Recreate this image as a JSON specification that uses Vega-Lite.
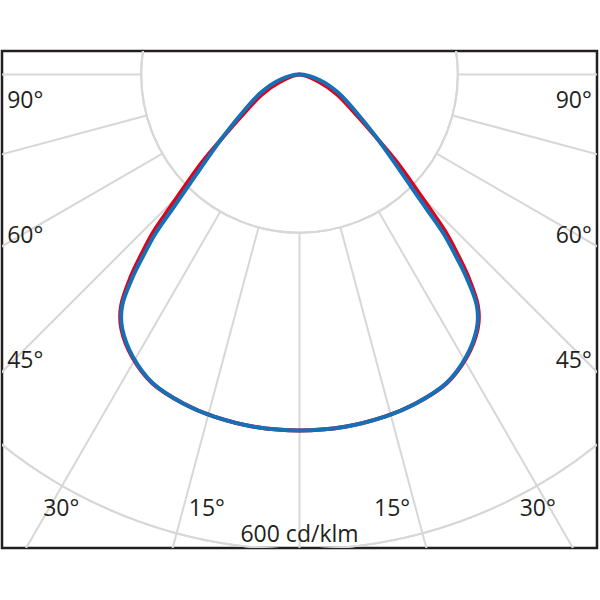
{
  "$schema": "https://vega.github.io/schema/vega-lite/v6.json",
  "description": "Polar luminous intensity distribution (cd/klm), C0-C180 and C90-C270 planes.",
  "width": 595,
  "height": 497,
  "autosize": "none",
  "padding": {"left": 2, "top": 51, "right": 3, "bottom": 52},
  "background": "white",
  "config": {"view": {"stroke": "#231f20", "strokeWidth": 2.5}},
  "layer": [
    {
      "data": {"values": [{"r": 200}, {"r": 400}, {"r": 600}]},
      "mark": {"type": "arc", "theta": 0, "theta2": 6.2832, "filled": false, "color": "#d7d7d7", "strokeWidth": 2, "clip": true},
      "encoding": {
        "x": {"datum": 0, "type": "quantitative", "scale": {"domain": [-375.87, 375.87], "nice": false, "zero": false}, "axis": null},
        "y": {"datum": 0, "type": "quantitative", "scale": {"domain": [-598.23, 29.69], "nice": false, "zero": false}, "axis": null},
        "radius": {"field": "r", "type": "quantitative", "scale": {"type": "linear", "domain": [0, 600], "range": [0, 474.9]}}
      }
    },
    {
      "data": {"values": [
        {"angle": 0, "x": 0, "y": -200, "x2": 0, "y2": -900},
        {"angle": -15, "x": -51.76, "y": -193.19, "x2": -232.94, "y2": -869.33},
        {"angle": 15, "x": 51.76, "y": -193.19, "x2": 232.94, "y2": -869.33},
        {"angle": -30, "x": -100, "y": -173.21, "x2": -450, "y2": -779.42},
        {"angle": 30, "x": 100, "y": -173.21, "x2": 450, "y2": -779.42},
        {"angle": -45, "x": -141.42, "y": -141.42, "x2": -636.4, "y2": -636.4},
        {"angle": 45, "x": 141.42, "y": -141.42, "x2": 636.4, "y2": -636.4},
        {"angle": -60, "x": -173.21, "y": -100, "x2": -779.42, "y2": -450},
        {"angle": 60, "x": 173.21, "y": -100, "x2": 779.42, "y2": -450},
        {"angle": -75, "x": -193.19, "y": -51.76, "x2": -869.33, "y2": -232.94},
        {"angle": 75, "x": 193.19, "y": -51.76, "x2": 869.33, "y2": -232.94},
        {"angle": -90, "x": -200, "y": 0, "x2": -900, "y2": 0},
        {"angle": 90, "x": 200, "y": 0, "x2": 900, "y2": 0}
      ]},
      "mark": {"type": "rule", "color": "#d7d7d7", "strokeWidth": 2, "clip": true},
      "encoding": {
        "x": {"field": "x", "type": "quantitative", "scale": {"domain": [-375.87, 375.87], "nice": false, "zero": false}, "axis": null},
        "y": {"field": "y", "type": "quantitative", "scale": {"domain": [-598.23, 29.69], "nice": false, "zero": false}, "axis": null},
        "x2": {"field": "x2"},
        "y2": {"field": "y2"}
      }
    },
    {
      "data": {"name": "curves"},
      "transform": [{"filter": "datum.plane === 'C0-C180'"}],
      "mark": {"type": "line", "interpolate": "cardinal-closed", "tension": 0, "color": "#e2001a", "strokeWidth": 4, "clip": true},
      "encoding": {
        "x": {"field": "x", "type": "quantitative", "scale": {"domain": [-375.87, 375.87], "nice": false, "zero": false}, "axis": null},
        "y": {"field": "y", "type": "quantitative", "scale": {"domain": [-598.23, 29.69], "nice": false, "zero": false}, "axis": null},
        "order": {"field": "i", "type": "quantitative"}
      }
    },
    {
      "data": {"name": "curves"},
      "transform": [{"filter": "datum.plane === 'C90-C270'"}],
      "mark": {"type": "line", "interpolate": "cardinal-closed", "tension": 0, "color": "#176fb5", "strokeWidth": 4, "clip": true},
      "encoding": {
        "x": {"field": "x", "type": "quantitative", "scale": {"domain": [-375.87, 375.87], "nice": false, "zero": false}, "axis": null},
        "y": {"field": "y", "type": "quantitative", "scale": {"domain": [-598.23, 29.69], "nice": false, "zero": false}, "axis": null},
        "order": {"field": "i", "type": "quantitative"}
      }
    },
    {
      "data": {"values": [
        {"label": "90°", "tx": -346.5, "ty": -42.3},
        {"label": "90°", "tx": 346.5, "ty": -42.3},
        {"label": "60°", "tx": -346.5, "ty": -212.5},
        {"label": "60°", "tx": 346.5, "ty": -212.5},
        {"label": "45°", "tx": -346.5, "ty": -370.8},
        {"label": "45°", "tx": 346.5, "ty": -370.8},
        {"label": "30°", "tx": -301, "ty": -558},
        {"label": "30°", "tx": 301, "ty": -558},
        {"label": "15°", "tx": -117, "ty": -558},
        {"label": "15°", "tx": 117, "ty": -558},
        {"label": "600 cd/klm", "tx": 0, "ty": -590.6}
      ]},
      "mark": {"type": "text", "align": "center", "baseline": "alphabetic", "font": "Open Sans", "fontSize": 23, "color": "#231f20"},
      "encoding": {
        "x": {"field": "tx", "type": "quantitative", "scale": {"domain": [-375.87, 375.87], "nice": false, "zero": false}, "axis": null},
        "y": {"field": "ty", "type": "quantitative", "scale": {"domain": [-598.23, 29.69], "nice": false, "zero": false}, "axis": null},
        "text": {"field": "label"}
      }
    }
  ],
  "datasets": {
    "curves": [
      {"plane": "C0-C180", "i": 0, "x": 0, "y": 0},
      {"plane": "C0-C180", "i": 1, "x": -24.0, "y": -8.8},
      {"plane": "C0-C180", "i": 2, "x": -48.0, "y": -25.6},
      {"plane": "C0-C180", "i": 3, "x": -75.2, "y": -54.6},
      {"plane": "C0-C180", "i": 4, "x": -99.7, "y": -82.8},
      {"plane": "C0-C180", "i": 5, "x": -122.9, "y": -110.5},
      {"plane": "C0-C180", "i": 6, "x": -144.0, "y": -139.7},
      {"plane": "C0-C180", "i": 7, "x": -164.5, "y": -169.3},
      {"plane": "C0-C180", "i": 8, "x": -184.7, "y": -199.0},
      {"plane": "C0-C180", "i": 9, "x": -200.6, "y": -228.9},
      {"plane": "C0-C180", "i": 10, "x": -212.8, "y": -254.6},
      {"plane": "C0-C180", "i": 11, "x": -225.2, "y": -291.2},
      {"plane": "C0-C180", "i": 12, "x": -225.0, "y": -321.8},
      {"plane": "C0-C180", "i": 13, "x": -211.4, "y": -357.0},
      {"plane": "C0-C180", "i": 14, "x": -185.7, "y": -390.4},
      {"plane": "C0-C180", "i": 15, "x": -147.4, "y": -415.4},
      {"plane": "C0-C180", "i": 16, "x": -107.8, "y": -432.3},
      {"plane": "C0-C180", "i": 17, "x": -57.5, "y": -445.0},
      {"plane": "C0-C180", "i": 18, "x": 0, "y": -449.8},
      {"plane": "C0-C180", "i": 19, "x": 57.5, "y": -445.0},
      {"plane": "C0-C180", "i": 20, "x": 107.8, "y": -432.3},
      {"plane": "C0-C180", "i": 21, "x": 147.4, "y": -415.4},
      {"plane": "C0-C180", "i": 22, "x": 185.7, "y": -390.4},
      {"plane": "C0-C180", "i": 23, "x": 211.4, "y": -357.0},
      {"plane": "C0-C180", "i": 24, "x": 225.0, "y": -321.8},
      {"plane": "C0-C180", "i": 25, "x": 225.2, "y": -291.2},
      {"plane": "C0-C180", "i": 26, "x": 212.8, "y": -254.6},
      {"plane": "C0-C180", "i": 27, "x": 200.6, "y": -228.9},
      {"plane": "C0-C180", "i": 28, "x": 184.7, "y": -199.0},
      {"plane": "C0-C180", "i": 29, "x": 164.5, "y": -169.3},
      {"plane": "C0-C180", "i": 30, "x": 144.0, "y": -139.7},
      {"plane": "C0-C180", "i": 31, "x": 122.9, "y": -110.5},
      {"plane": "C0-C180", "i": 32, "x": 99.7, "y": -82.8},
      {"plane": "C0-C180", "i": 33, "x": 75.2, "y": -54.6},
      {"plane": "C0-C180", "i": 34, "x": 48.0, "y": -25.6},
      {"plane": "C0-C180", "i": 35, "x": 24.0, "y": -8.8},
      {"plane": "C90-C270", "i": 0, "x": 0, "y": 0},
      {"plane": "C90-C270", "i": 1, "x": -25.3, "y": -6.9},
      {"plane": "C90-C270", "i": 2, "x": -49.7, "y": -23.8},
      {"plane": "C90-C270", "i": 3, "x": -76.4, "y": -53.3},
      {"plane": "C90-C270", "i": 4, "x": -99.7, "y": -82.8},
      {"plane": "C90-C270", "i": 5, "x": -120.7, "y": -112.2},
      {"plane": "C90-C270", "i": 6, "x": -141.1, "y": -141.8},
      {"plane": "C90-C270", "i": 7, "x": -161.5, "y": -171.2},
      {"plane": "C90-C270", "i": 8, "x": -181.8, "y": -200.6},
      {"plane": "C90-C270", "i": 9, "x": -198.0, "y": -230.2},
      {"plane": "C90-C270", "i": 10, "x": -210.6, "y": -255.5},
      {"plane": "C90-C270", "i": 11, "x": -223.9, "y": -291.2},
      {"plane": "C90-C270", "i": 12, "x": -223.9, "y": -321.5},
      {"plane": "C90-C270", "i": 13, "x": -210.6, "y": -356.5},
      {"plane": "C90-C270", "i": 14, "x": -185.3, "y": -390.1},
      {"plane": "C90-C270", "i": 15, "x": -147.4, "y": -415.4},
      {"plane": "C90-C270", "i": 16, "x": -107.8, "y": -432.3},
      {"plane": "C90-C270", "i": 17, "x": -57.5, "y": -445.0},
      {"plane": "C90-C270", "i": 18, "x": 0, "y": -449.8},
      {"plane": "C90-C270", "i": 19, "x": 57.5, "y": -445.0},
      {"plane": "C90-C270", "i": 20, "x": 107.8, "y": -432.3},
      {"plane": "C90-C270", "i": 21, "x": 147.4, "y": -415.4},
      {"plane": "C90-C270", "i": 22, "x": 185.3, "y": -390.1},
      {"plane": "C90-C270", "i": 23, "x": 210.6, "y": -356.5},
      {"plane": "C90-C270", "i": 24, "x": 223.9, "y": -321.5},
      {"plane": "C90-C270", "i": 25, "x": 223.9, "y": -291.2},
      {"plane": "C90-C270", "i": 26, "x": 210.6, "y": -255.5},
      {"plane": "C90-C270", "i": 27, "x": 198.0, "y": -230.2},
      {"plane": "C90-C270", "i": 28, "x": 181.8, "y": -200.6},
      {"plane": "C90-C270", "i": 29, "x": 161.5, "y": -171.2},
      {"plane": "C90-C270", "i": 30, "x": 141.1, "y": -141.8},
      {"plane": "C90-C270", "i": 31, "x": 120.7, "y": -112.2},
      {"plane": "C90-C270", "i": 32, "x": 99.7, "y": -82.8},
      {"plane": "C90-C270", "i": 33, "x": 76.4, "y": -53.3},
      {"plane": "C90-C270", "i": 34, "x": 49.7, "y": -23.8},
      {"plane": "C90-C270", "i": 35, "x": 25.3, "y": -6.9}
    ]
  }
}
